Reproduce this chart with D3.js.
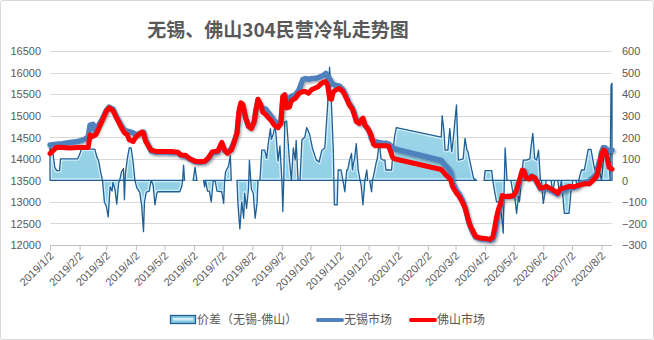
<!DOCTYPE html>
<html>
<head>
<meta charset="utf-8">
<script src="https://cdn.jsdelivr.net/npm/d3@7"></script>
<style>
  html, body { margin: 0; padding: 0; background: #fff; }
  svg { display: block; }
</style>
</head>
<body>
<svg id="chart" width="654" height="340"></svg>
<script>
// ---- data ----
const titleText = "无锡、佛山304民营冷轧走势图";
const legendLabels = ["价差（无锡-佛山）", "无锡市场", "佛山市场"];

const monthTicks = [
  "2019-01-02","2019-02-02","2019-03-02","2019-04-02","2019-05-02","2019-06-02",
  "2019-07-02","2019-08-02","2019-09-02","2019-10-02","2019-11-02","2019-12-02",
  "2020-01-02","2020-02-02","2020-03-02","2020-04-02","2020-05-02","2020-06-02",
  "2020-07-02","2020-08-02"
];
const priceTicks = [12000,12500,13000,13500,14000,14500,15000,15500,16000,16500];
const spreadTicks = [-300,-200,-100,0,100,200,300,400,500,600];

// price lines (元/吨)
const lineDates = [
  "2019-01-02","2019-01-09","2019-01-15","2019-01-23","2019-01-31","2019-02-07","2019-02-11","2019-02-13",
  "2019-02-16","2019-02-19","2019-02-22","2019-02-26","2019-03-02","2019-03-05","2019-03-09","2019-03-12",
  "2019-03-15","2019-03-18","2019-03-21","2019-03-24","2019-03-26","2019-03-30","2019-04-02","2019-04-05",
  "2019-04-08","2019-04-10","2019-04-12","2019-04-15","2019-04-18","2019-04-23","2019-05-02","2019-05-09",
  "2019-05-16","2019-05-19","2019-05-24","2019-05-28","2019-06-03","2019-06-08","2019-06-13","2019-06-17",
  "2019-06-21","2019-06-27","2019-07-01","2019-07-04","2019-07-07","2019-07-11","2019-07-14","2019-07-17",
  "2019-07-19","2019-07-21","2019-07-23","2019-07-26","2019-07-29","2019-08-01","2019-08-04","2019-08-06",
  "2019-08-08","2019-08-11","2019-08-13","2019-08-16","2019-08-19","2019-08-22","2019-08-25","2019-08-29",
  "2019-09-01","2019-09-03","2019-09-05","2019-09-07","2019-09-10","2019-09-12","2019-09-16","2019-09-20",
  "2019-09-24","2019-09-27","2019-09-30","2019-10-03","2019-10-07","2019-10-10","2019-10-13","2019-10-16",
  "2019-10-18","2019-10-20","2019-10-22","2019-10-24","2019-10-26","2019-10-29","2019-11-01","2019-11-05",
  "2019-11-07","2019-11-09","2019-11-12","2019-11-15","2019-11-17","2019-11-19","2019-11-22","2019-11-24",
  "2019-11-26","2019-11-28","2019-12-01","2019-12-03","2019-12-05","2019-12-07","2019-12-09","2019-12-12",
  "2019-12-16","2019-12-20","2019-12-23","2019-12-27","2019-12-29","2019-12-31","2020-02-16","2020-02-18",
  "2020-02-21","2020-02-24","2020-02-26","2020-02-28","2020-03-03","2020-03-06","2020-03-09","2020-03-12",
  "2020-03-14","2020-03-16","2020-03-18","2020-03-20","2020-03-23","2020-03-28","2020-04-02","2020-04-07",
  "2020-04-10","2020-04-12","2020-04-14","2020-04-16","2020-04-18","2020-04-20","2020-04-22","2020-04-27",
  "2020-05-02","2020-05-05","2020-05-08","2020-05-11","2020-05-13","2020-05-15","2020-05-18","2020-05-21",
  "2020-05-24","2020-05-27","2020-05-30","2020-06-02","2020-06-05","2020-06-08","2020-06-12","2020-06-15",
  "2020-06-17","2020-06-20","2020-06-25","2020-06-29","2020-07-04","2020-07-08","2020-07-12","2020-07-16",
  "2020-07-20","2020-07-24","2020-07-28","2020-07-31","2020-08-02","2020-08-04","2020-08-06","2020-08-08",
  "2020-08-10","2020-08-13"
];
const wuxiPrices = [
  14320,14340,14350,14380,14400,14450,14500,14780,14800,14620,14780,14930,15120,15200,15150,15000,
  14880,14760,14660,14640,14630,14600,14560,14580,14600,14620,14450,14320,14180,14150,14150,14140,
  14140,14080,14060,14000,13930,13920,13930,14000,14130,14160,14350,14190,14150,14230,14400,14600,
  15050,15250,15250,14950,14750,14720,14870,15150,15370,15200,15180,15150,15060,14980,14880,14800,
  14850,15400,15480,15360,15400,15450,15480,15600,15840,15860,15840,15860,15870,15880,15910,15940,
  15980,15900,15860,15780,15720,15700,15690,15600,15520,15420,15270,15170,15050,14900,14830,14880,
  14920,14780,14700,14620,14460,14400,14400,14380,14360,14360,14340,14260,14240,14220,13960,13900,
  13830,13760,13680,13450,13260,13180,13050,12880,12700,12520,12400,12300,12180,12140,12130,12110,
  12130,12250,12500,12750,12900,13100,13120,13130,13130,13230,13450,13700,13720,13580,13560,13600,
  13560,13420,13300,13300,13330,13280,13240,13200,13180,13250,13290,13330,13330,13360,13440,13460,
  13480,13560,13640,13900,14150,14260,14250,14200,14200,14200
];
const foshanPrices = [
  14120,14270,14260,14250,14260,14260,14260,14550,14520,14560,14700,14900,15100,15180,15120,14980,
  14850,14720,14600,14560,14440,14400,14500,14560,14620,14600,14420,14300,14200,14170,14170,14170,
  14150,14090,14080,14010,13940,13930,13940,14020,14160,14180,14380,14200,14130,14200,14380,14600,
  15100,15300,15270,14950,14760,14700,14860,15150,15380,15250,15080,15030,14950,14880,14780,14720,
  14820,15450,15480,15180,15200,15350,15400,15520,15560,15560,15520,15600,15640,15670,15740,15780,
  15790,15700,15400,15380,15560,15600,15630,15560,15480,15380,15240,15150,15020,14860,14820,14900,
  14940,14780,14700,14620,14520,14340,14300,14300,14300,14300,14290,14040,14000,13990,13750,13700,
  13620,13560,13500,13350,13200,13120,13000,12860,12700,12540,12420,12340,12200,12160,12150,12130,
  12180,12400,12650,12830,12950,13150,13130,13120,13150,13280,13500,13740,13700,13560,13530,13590,
  13560,13440,13320,13330,13360,13330,13280,13240,13200,13300,13330,13360,13350,13380,13400,13420,
  13420,13500,13600,13860,14100,14200,14180,14000,13800,13760
];

// spread 无锡-佛山 (元/吨), null = no quote
const spreadDates = [
  "2019-01-02","2019-01-05","2019-01-07","2019-01-09","2019-01-12","2019-01-13","2019-01-31","2019-02-02",
  "2019-02-04","2019-02-18","2019-02-20","2019-02-22","2019-02-24","2019-02-26","2019-02-28","2019-03-02",
  "2019-03-04","2019-03-06","2019-03-08","2019-03-09","2019-03-11","2019-03-13","2019-03-15","2019-03-16",
  "2019-03-18","2019-03-20","2019-03-21","2019-03-22","2019-03-24","2019-03-26","2019-03-28","2019-03-30",
  "2019-04-01","2019-04-03","2019-04-06","2019-04-08","2019-04-10","2019-04-11","2019-04-13","2019-04-16",
  "2019-04-18","2019-04-20","2019-04-22","2019-04-24","2019-04-25","2019-05-18","2019-05-20","2019-05-21",
  "2019-05-22","2019-05-23","2019-05-27","2019-06-01","2019-06-03","2019-06-05","2019-06-08","2019-06-12",
  "2019-06-13","2019-06-14","2019-06-16","2019-06-18","2019-06-20","2019-06-22","2019-06-24","2019-06-26",
  "2019-07-01","2019-07-03","2019-07-04","2019-07-05","2019-07-08","2019-07-10","2019-07-11","2019-07-14",
  "2019-07-17","2019-07-18","2019-07-20","2019-07-22","2019-07-24","2019-07-25","2019-07-27","2019-07-29",
  "2019-07-30","2019-08-01","2019-08-03","2019-08-05","2019-08-07","2019-08-08","2019-08-10","2019-08-12",
  "2019-08-15","2019-08-17","2019-08-19","2019-08-21","2019-08-22","2019-08-24","2019-08-26","2019-08-28",
  "2019-08-29","2019-08-31","2019-09-02","2019-09-03","2019-09-04","2019-09-05","2019-09-07","2019-09-09",
  "2019-09-10","2019-09-12","2019-09-14","2019-09-16","2019-09-17","2019-09-19","2019-09-21","2019-09-23",
  "2019-09-26","2019-09-28","2019-10-01","2019-10-04","2019-10-08","2019-10-11","2019-10-14","2019-10-17",
  "2019-10-20","2019-10-22","2019-10-24","2019-10-26","2019-10-27","2019-10-30","2019-10-31","2019-11-03",
  "2019-11-05","2019-11-07","2019-11-09","2019-11-10","2019-11-12","2019-11-14","2019-11-15","2019-11-16",
  "2019-11-17","2019-11-19","2019-11-21","2019-11-23","2019-11-24","2019-11-26","2019-11-28","2019-11-30",
  "2019-12-01","2019-12-02","2019-12-03","2019-12-05","2019-12-06","2019-12-08","2019-12-10","2019-12-11",
  "2019-12-13","2019-12-15","2019-12-17","2019-12-19","2019-12-20","2019-12-26","2019-12-27","2019-12-29",
  "2019-12-31","2020-02-16","2020-02-17","2020-02-19","2020-02-20","2020-02-23","2020-02-25","2020-02-27",
  "2020-02-28","2020-03-03","2020-03-05","2020-03-10","2020-03-12","2020-03-14","2020-03-15","2020-03-19",
  "2020-03-21","2020-03-24","2020-03-27","2020-04-01","2020-04-02","2020-04-09","2020-04-10","2020-04-12",
  "2020-04-14","2020-04-17","2020-04-19","2020-04-21","2020-04-22","2020-04-23","2020-04-25","2020-04-29",
  "2020-05-01","2020-05-03","2020-05-05","2020-05-07","2020-05-08","2020-05-10","2020-05-12","2020-05-15",
  "2020-05-19","2020-05-20","2020-05-22","2020-05-24","2020-05-26","2020-05-28","2020-05-30","2020-05-31",
  "2020-06-02","2020-06-04","2020-06-05","2020-06-10","2020-06-12","2020-06-14","2020-06-17","2020-06-19",
  "2020-06-21","2020-06-23","2020-06-24","2020-06-29","2020-07-01","2020-07-03","2020-07-06","2020-07-08",
  "2020-07-10","2020-07-12","2020-07-15","2020-07-17","2020-07-19","2020-07-22","2020-07-24","2020-07-26",
  "2020-07-27","2020-07-29","2020-07-31","2020-08-02","2020-08-04","2020-08-06","2020-08-09","2020-08-11",
  "2020-08-12","2020-08-13"
];
const spreadValues = [
  150,130,60,45,45,100,100,120,
  145,145,110,90,40,0,-100,-120,
  -170,-30,-50,-10,-40,-110,-10,0,
  40,55,-90,30,100,150,150,90,
  0,-35,-55,-115,-238,-100,-55,-50,
  0,-20,-114,-60,-53,-53,-30,0,
  71,0,null,0,60,0,null,0,
  -30,0,-50,-50,-100,-5,0,-50,
  -53,-107,-5,40,65,115,0,null,
  0,-114,-225,-100,-176,-60,-130,-40,
  94,-40,-60,-176,-107,0,0,140,
  140,102,180,240,190,215,257,150,
  90,160,0,-145,0,270,275,150,
  90,0,150,95,185,0,0,187,
  200,245,215,150,95,85,140,150,
  350,525,350,130,-114,-114,48,48,
  0,-53,48,48,94,125,48,80,
  94,170,48,0,-20,-114,0,48,
  0,null,0,-53,0,40,86,100,
  180,100,94,94,48,48,110,200,
  245,200,300,225,140,140,240,133,
  164,350,94,100,195,140,133,48,
  9,0,null,0,45,45,0,-53,
  -100,-100,-150,-245,-30,150,0,0,
  -53,-75,-153,-75,-100,0,94,94,
  100,150,218,100,94,140,0,0,
  -107,-53,0,0,-53,0,0,-53,
  0,-100,-153,-153,-53,0,0,-30,
  17,48,48,94,144,144,94,48,
  60,94,40,0,94,148,148,0,
  442,450
];

// ---- chart ----
const W = 654, H = 340;
const plot = { left: 50, right: 612, top: 51, bottom: 245 };
const parse = d3.timeParse("%Y-%m-%d");
const textColor = "#595959";
const numFont = "'Liberation Sans', Arial, sans-serif";
const cjkFont = "'Noto Sans CJK SC', 'Noto Sans', sans-serif";

const svg = d3.select("#chart");

// chart frame
svg.append("rect")
  .attr("x", 0.5).attr("y", 0.5).attr("width", W - 1).attr("height", H - 1)
  .attr("rx", 2).attr("fill", "#fff").attr("stroke", "#d9d9d9");

const x = d3.scaleTime()
  .domain([parse("2019-01-02"), parse("2020-08-13")])
  .range([plot.left, plot.right]);
const yL = d3.scaleLinear().domain([12000, 16500]).range([plot.bottom, plot.top]);
const yR = d3.scaleLinear().domain([-300, 600]).range([plot.bottom, plot.top]);

const defs = svg.append("defs");
const shadow = defs.append("filter").attr("id", "lineShadow")
  .attr("x", "-5%").attr("y", "-20%").attr("width", "110%").attr("height", "140%");
shadow.append("feDropShadow")
  .attr("dx", 1.2).attr("dy", 1.6).attr("stdDeviation", 1.2)
  .attr("flood-color", "#000").attr("flood-opacity", 0.35);

// horizontal gridlines
svg.append("g").selectAll("line").data(priceTicks).join("line")
  .attr("x1", plot.left).attr("x2", plot.right)
  .attr("y1", d => Math.round(yL(d)) + 0.5).attr("y2", d => Math.round(yL(d)) + 0.5)
  .attr("stroke", "#d9d9d9").attr("stroke-width", 1);

// left axis
const leftAxis = d3.axisLeft(yL).tickValues(priceTicks).tickSize(0).tickPadding(0)
  .tickFormat(d3.format("d"));
const gL = svg.append("g").attr("transform", `translate(${plot.left - 9},0)`).call(leftAxis);
gL.select(".domain").remove();
gL.selectAll("text").attr("fill", textColor).attr("font-size", 11)
  .attr("font-family", numFont).attr("dy", "0.35em");

// right axis
const rightAxis = d3.axisRight(yR).tickValues(spreadTicks).tickSize(0).tickPadding(0)
  .tickFormat(d3.format("d"));
const gR = svg.append("g").attr("transform", `translate(${plot.right + 10},0)`).call(rightAxis);
gR.select(".domain").remove();
gR.selectAll("text").attr("fill", textColor).attr("font-size", 11)
  .attr("font-family", numFont).attr("dy", "0.35em");

// bottom axis
const tickDates = monthTicks.map(parse);
const fmtDate = d => `${d.getFullYear()}/${d.getMonth() + 1}/${d.getDate()}`;
const bottomAxis = d3.axisBottom(x).tickValues(tickDates).tickSize(5).tickSizeOuter(0)
  .tickFormat(fmtDate);
const gB = svg.append("g").attr("transform", `translate(0,${plot.bottom + 0.5})`).call(bottomAxis);
gB.select(".domain").attr("stroke", "#bfbfbf").attr("d", `M${plot.left},0H${plot.right}`);
gB.selectAll(".tick line").attr("stroke", "#bfbfbf");
gB.selectAll(".tick text")
  .attr("fill", textColor).attr("font-size", 11).attr("font-family", numFont)
  .attr("text-anchor", "end").attr("dy", 0).attr("y", 0)
  .attr("transform", "translate(4,11) rotate(-45)");

// spread area (right axis)
const spread = spreadDates.map((d, i) => ({ date: parse(d), v: spreadValues[i] }));
const area = d3.area()
  .defined(d => d.v !== null)
  .x(d => x(d.date))
  .y0(yR(0))
  .y1(d => yR(d.v));

const areaGrad = defs.append("linearGradient").attr("id", "areaFill")
  .attr("gradientUnits", "userSpaceOnUse")
  .attr("x1", 0).attr("x2", 0).attr("y1", plot.top).attr("y2", plot.bottom);
areaGrad.append("stop").attr("offset", "0%").attr("stop-color", "#a9def0");
areaGrad.append("stop").attr("offset", "100%").attr("stop-color", "#86c9e0");

defs.append("clipPath").attr("id", "areaClip")
  .append("path").attr("d", area(spread));

const areaG = svg.append("g");
areaG.append("path").attr("d", area(spread))
  .attr("fill", "url(#areaFill)");
// soft inner highlight along the edges
areaG.append("path").attr("d", area(spread))
  .attr("clip-path", "url(#areaClip)")
  .attr("fill", "none").attr("stroke", "#e4f6fc").attr("stroke-width", 4)
  .attr("stroke-opacity", 0.75).attr("stroke-linejoin", "round");
areaG.append("path").attr("d", area(spread))
  .attr("fill", "none").attr("stroke", "#1f5f96").attr("stroke-width", 1.3)
  .attr("stroke-linejoin", "round");

// price lines (left axis)
const dates = lineDates.map(parse);
const line = d3.line().x((d, i) => x(dates[i])).y(d => yL(d)).curve(d3.curveLinear);

svg.append("path").attr("d", line(wuxiPrices))
  .attr("fill", "none").attr("stroke", "#4f81bd").attr("stroke-width", 5.5)
  .attr("stroke-linejoin", "round").attr("stroke-linecap", "round")
  .attr("filter", "url(#lineShadow)");
svg.append("path").attr("d", line(foshanPrices))
  .attr("fill", "none").attr("stroke", "#ff0000").attr("stroke-width", 5)
  .attr("stroke-linejoin", "round").attr("stroke-linecap", "round");

// title
svg.append("text")
  .attr("x", 278).attr("y", 37)
  .attr("text-anchor", "middle")
  .attr("font-family", cjkFont).attr("font-weight", "bold").attr("font-size", 19)
  .attr("fill", textColor)
  .text(titleText);

// legend
const legY = 320;
const lg = svg.append("g").attr("font-family", cjkFont).attr("font-size", 12).attr("fill", textColor);
// area swatch
lg.append("rect").attr("x", 170.5).attr("y", legY - 4.5).attr("width", 25).attr("height", 8)
  .attr("fill", "url(#areaFill)").attr("stroke", "#1f5f96").attr("stroke-width", 1.3);
lg.append("rect").attr("x", 173).attr("y", legY - 2).attr("width", 20).attr("height", 2.5)
  .attr("fill", "#e4f6fc").attr("opacity", 0.8);
lg.append("text").attr("x", 197).attr("y", legY).attr("dy", "0.35em").text(legendLabels[0]);
// line swatches
lg.append("line").attr("x1", 318).attr("x2", 342).attr("y1", legY).attr("y2", legY)
  .attr("stroke", "#4f81bd").attr("stroke-width", 4).attr("stroke-linecap", "round");
lg.append("text").attr("x", 344).attr("y", legY).attr("dy", "0.35em").text(legendLabels[1]);
lg.append("line").attr("x1", 411).attr("x2", 435).attr("y1", legY).attr("y2", legY)
  .attr("stroke", "#ff0000").attr("stroke-width", 4).attr("stroke-linecap", "round");
lg.append("text").attr("x", 437).attr("y", legY).attr("dy", "0.35em").text(legendLabels[2]);
</script>
</body>
</html>
